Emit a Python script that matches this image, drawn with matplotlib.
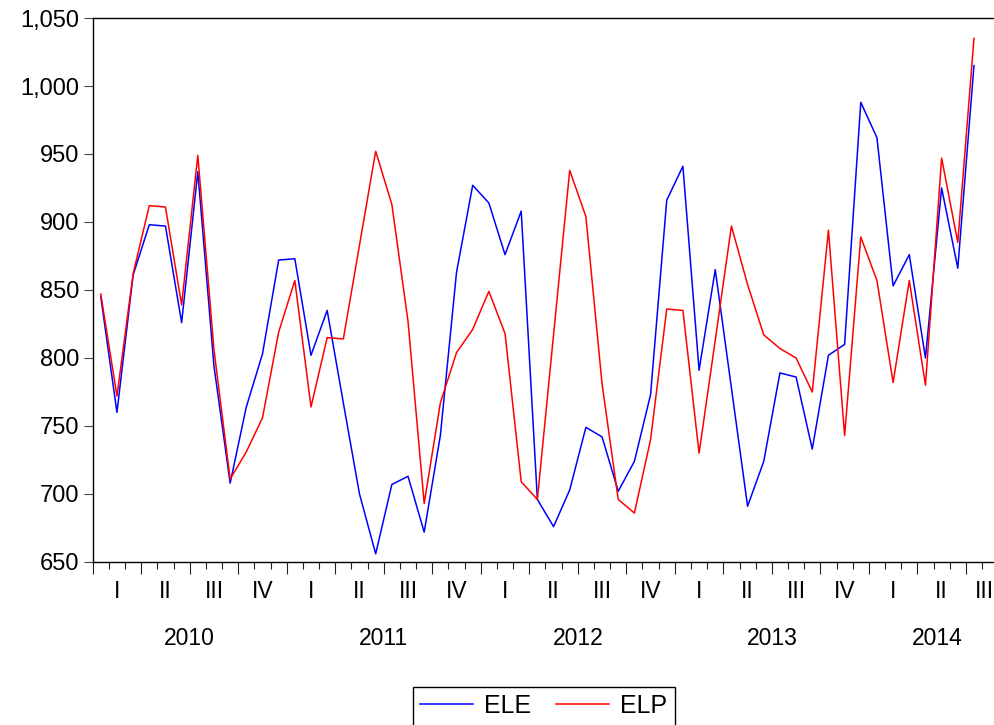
import matplotlib
matplotlib.use('Agg')
import matplotlib.pyplot as plt
from matplotlib.ticker import FuncFormatter
import numpy as np

# ---- data (monthly, 2010M1 .. 2014M7) ----
years = [2010, 2011, 2012, 2013, 2014]
quarter_labels = ['I', 'II', 'III', 'IV']
ele = [845, 760, 861, 898, 897, 826, 937, 794, 708, 764, 803, 872,
       873, 802, 835, 767, 700, 656, 707, 713, 672, 743, 863, 927,
       914, 876, 908, 696, 676, 703, 749, 742, 702, 724, 773, 916,
       941, 791, 865, 778, 691, 724, 789, 786, 733, 802, 810, 988,
       962, 853, 876, 800, 925, 866, 1015]
elp = [847, 772, 862, 912, 911, 839, 949, 806, 711, 731, 756, 819,
       857, 764, 815, 814, 883, 952, 913, 827, 693, 767, 804, 821,
       849, 818, 709, 696, 817, 938, 904, 781, 696, 686, 740, 836,
       835, 730, 813, 897, 854, 817, 807, 800, 775, 894, 743, 889,
       857, 782, 857, 780, 947, 885, 1035]
n_axis_months = 57  # axis spans 2010M1 .. 2014M9

plt.rcParams['font.family'] = ['Liberation Sans', 'DejaVu Sans']

W, H = 995, 725
fig = plt.figure(figsize=(W / 100, H / 100), dpi=100)
month_px = 16.17
ax = fig.add_axes([92.7 / W, 1 - 562 / H, n_axis_months * month_px / W, 544 / H])

x = np.arange(len(ele))
ax.plot(x, ele, color='#0000ff', lw=1.1, label='ELE')
ax.plot(x, elp, color='#ff0000', lw=1.1, label='ELP')

ax.set_xlim(-0.5, n_axis_months - 0.5)
ax.set_ylim(650, 1050)
ax.set_yticks(np.arange(650, 1051, 50))
ax.yaxis.set_major_formatter(FuncFormatter(lambda v, p: f'{v:,.0f}'))
ax.tick_params(axis='y', direction='out', length=6.5, width=0.8, pad=3,
               labelsize=17, color='#444444')

ax.set_xticks(np.arange(-0.5, n_axis_months, 3))
ax.set_xticks(np.arange(-0.5, n_axis_months, 1), minor=True)
ax.tick_params(axis='x', which='major', direction='out', length=8.4, width=0.8,
               labelbottom=False, color='#222222')
ax.tick_params(axis='x', which='minor', direction='out', length=5, width=0.8,
               color='#222222')
for s in ax.spines.values():
    s.set_linewidth(1.0)
    s.set_color('black')

# quarter labels
n_q = n_axis_months // 3
for q in range(n_q):
    center = 3 * q + 1
    if q == n_q - 1:
        # last quarter is cut by the picture's right edge: keep the label inside
        ax.annotate(quarter_labels[q % 4], xy=(1.0, 0),
                    xycoords=('figure fraction', 'axes fraction'),
                    xytext=(-1, -26.1), textcoords='offset points',
                    ha='right', va='baseline', fontsize=16.5,
                    annotation_clip=False)
    else:
        ax.annotate(quarter_labels[q % 4], xy=(center, 0),
                    xycoords=('data', 'axes fraction'),
                    xytext=(0, -26.1), textcoords='offset points',
                    ha='center', va='baseline', fontsize=16.5,
                    annotation_clip=False)

# year labels, centred over the months of each year shown on the axis
for k, yr in enumerate(years):
    start = 12 * k
    end = min(12 * k + 12, n_axis_months - 0.5)
    center = (start + end) / 2 - 0.5
    ax.annotate(str(yr), xy=(center, 0), xycoords=('data', 'axes fraction'),
                xytext=(0, -59.8), textcoords='offset points',
                ha='center', va='baseline', fontsize=16.5, annotation_clip=False)

leg = fig.legend(loc='upper center', bbox_to_anchor=(543.7 / W, 1 - 686.7 / H),
                 ncol=2, frameon=True, fancybox=False, edgecolor='black',
                 fontsize=18, handlelength=2.1, handletextpad=0.45,
                 columnspacing=1.0, borderpad=0.3, borderaxespad=0.0,
                 framealpha=1)
leg.get_frame().set_linewidth(1.0)

fig.savefig('out.png', dpi=100)
